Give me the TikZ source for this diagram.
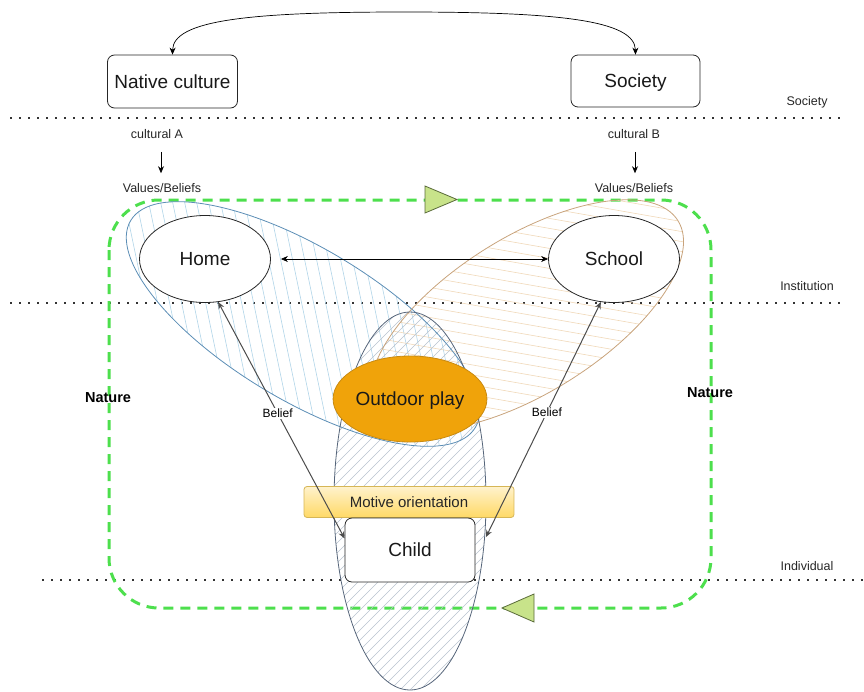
\documentclass[tikz,border=0pt]{standalone}
\usepackage{fontspec}
\setmainfont{Liberation Sans}
\usetikzlibrary{shapes.geometric,arrows.meta}
\definecolor{blueline}{HTML}{5B8DB5}
\definecolor{bluehatch}{HTML}{B0D4E8}
\definecolor{orangeline}{HTML}{C8A37C}
\definecolor{orangehatch}{HTML}{F0D8B8}
\definecolor{childline}{HTML}{56657A}
\definecolor{childhatch}{HTML}{B8C2CE}
\definecolor{natgreen}{HTML}{4DDF4D}
\definecolor{trifill}{HTML}{C8E38A}
\definecolor{tridraw}{HTML}{5A6B3A}
\definecolor{outfill}{HTML}{F0A30A}
\definecolor{outdraw}{HTML}{C98A10}
\definecolor{mottop}{HTML}{FFF2CC}
\definecolor{motbot}{HTML}{FFD966}
\definecolor{motdraw}{HTML}{D6B656}
\begin{document}
\begin{tikzpicture}[x=1pt,y=-1pt,
  bigtext/.style={font=\fontsize{19}{22}\selectfont, text=black!90, text height=13.6pt, text depth=0pt},
  box/.style={bigtext, draw=black!85, rounded corners=7pt, fill=white, line width=0.8pt, inner sep=0pt},
  oval/.style={bigtext, ellipse, draw=black!85, fill=white, line width=0.8pt, inner sep=0pt, minimum width=131pt, minimum height=87pt},
  lbl/.style={font=\fontsize{12.5}{14}\selectfont, text=black!85, inner sep=0pt},
  naturelbl/.style={font=\bfseries\fontsize{14.5}{17}\selectfont, text=black, inner sep=0pt},
  dots/.style={draw=black!80, line width=1.6pt, dash pattern=on 1.6pt off 7.4pt},
  greendash/.style={draw=natgreen, line width=3pt, dash pattern=on 10pt off 7pt, rounded corners=50pt},
  tri/.style={draw=tridraw, fill=trifill, line width=0.8pt, line join=miter},
  arr/.style={-{Stealth[length=7pt,width=6pt]}, line width=0.7pt, draw=black},
  both/.style={{Stealth[length=7pt,width=6pt]}-{Stealth[length=7pt,width=6pt]}, line width=0.7pt},
  beliefline/.style={both, draw=black!70, line width=1pt},
  beliefbl/.style={font=\fontsize{12}{14}\selectfont, fill=white, inner sep=1pt, text=black},
  hatchline/.style={line width=0.6pt}
]
\useasboundingbox (0,0) rectangle (864,691);

% level lines
\draw[dots] (10,118) -- (840,118);
\draw[dots] (10,303) -- (840,303);
\draw[dots] (42,580) -- (864,580);
\node[lbl] (lsoc) at (807,102) {Society};
\node[lbl] (linst) at (807,286) {Institution};
\node[lbl] (lind) at (807,566) {Individual};

% nature frame
\draw[greendash] (109,200) rectangle (711,608);

% hatching: home ellipse (blue)
\begin{scope}
  \clip (303,324) ellipse [x radius=201, y radius=76, rotate=-31];
  \foreach \i in {0,...,40}
    \draw[hatchline, draw=bluehatch] (60+\i*12,180) -- ++(60,288);
\end{scope}
% hatching: school ellipse (orange)
\begin{scope}
  \clip (527,315) ellipse [x radius=178, y radius=78, rotate=32];
  \foreach \i in {0,...,34}
    \draw[hatchline, draw=orangehatch] (330,130+\i*10) -- ++(400,70);
\end{scope}
% hatching: child ellipse
\begin{scope}
  \clip (410,501) ellipse [x radius=76, y radius=189];
  \foreach \i in {0,...,56}
    \draw[hatchline, draw=childhatch] (640+\i*10-700,700) -- ++(400,-400);
\end{scope}
% ellipse outlines
\draw[draw=blueline, line width=0.8pt] (303,324) ellipse [x radius=201, y radius=76, rotate=-31];
\draw[draw=orangeline, line width=0.8pt] (527,315) ellipse [x radius=178, y radius=78, rotate=32];
\draw[draw=childline, line width=0.8pt] (410,501) ellipse [x radius=76, y radius=189];

% top boxes
\node[box, minimum width=130pt, minimum height=53pt] (nc) at (172.5,81.5) {Native culture};
\node[box, minimum width=129pt, minimum height=52pt] (soc) at (635.5,81) {Society};
\draw[both, draw=black] (nc.north) .. controls (173,20) and (250,12) .. (404,12)
  .. controls (558,12) and (635,20) .. (soc.north);

% cultural labels
\node[lbl] (ca) at (157,134) {cultural A};
\node[lbl] (va) at (162,188) {Values/Beliefs};
\node[lbl] (cb) at (634,134) {cultural B};
\node[lbl] (vb) at (634,188) {Values/Beliefs};
\draw[arr, shorten <=13pt, shorten >=10pt] ([xshift=4pt]ca.south) -- ([xshift=4pt]ca.south |- va.north);
\draw[arr, shorten <=13pt, shorten >=10pt] ([xshift=1pt]cb.south) -- ([xshift=1pt]cb.south |- vb.north);

% institutions
\node[oval] (home) at (205,259) {Home};
\node[oval] (school) at (614,259) {School};
\draw[both, draw=black] ([xshift=10pt]home.east) -- (school.west);

% outdoor play
\node[bigtext, ellipse, fill=outfill, draw=outdraw, line width=0.8pt, minimum width=130pt, minimum height=86pt, inner sep=0pt] (out) at (410,399) {Outdoor play};

% motive + child
\node[draw=motdraw, top color=mottop, bottom color=motbot, rounded corners=3pt, line width=0.8pt,
  minimum width=210pt, minimum height=31pt, inner sep=0pt, font=\fontsize{15}{18}\selectfont, text=black!85] (mot) at (409,502) {Motive orientation};
\node[box, minimum width=130pt, minimum height=64pt] (child) at (410,550) {Child};

% belief arrows
\coordinate (rb) at (486,537);
\draw[beliefline] (home.-73) -- node[beliefbl, pos=0.47] (bl) {Belief} (child.170);
\draw[beliefline] (school.-107) -- node[beliefbl, pos=0.47] (br) {Belief} (rb);

% nature labels
\node[naturelbl] (natl) at (108,398) {Nature};
\node[naturelbl] (natr) at (710,393) {Nature};

% direction triangles
\draw[tri] (425,186) -- (425,213) -- (457,199.5) -- cycle;
\draw[tri] (534,594) -- (534,622) -- (502,608) -- cycle;
\end{tikzpicture}
\end{document}
